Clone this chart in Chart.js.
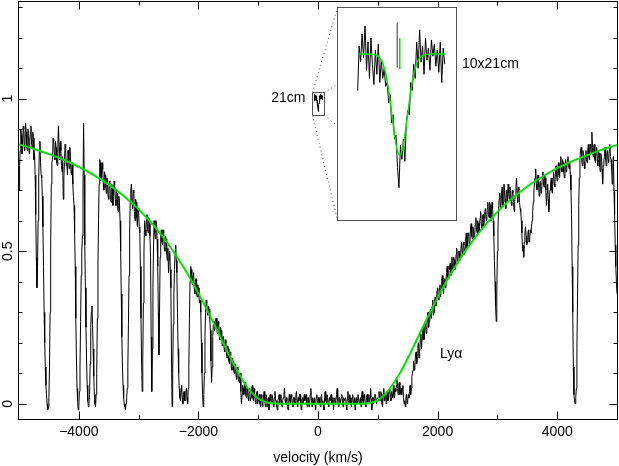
<!DOCTYPE html>
<html><head><meta charset="utf-8">
<script src="https://cdn.jsdelivr.net/npm/chart.js@4/dist/chart.umd.min.js"></script>
<style>
html,body{margin:0;padding:0;background:#fff;}
#wrap{position:relative;width:619px;height:466px;overflow:hidden;}
#main{position:absolute;left:0;top:0;}
#inset{position:absolute;background:#fff;border:1px solid #555;box-sizing:border-box;}
#inset canvas{position:absolute;left:0;top:0;}
</style></head><body>
<div id="wrap"><canvas id="main" width="619" height="466"></canvas><div id="inset"><canvas id="insetCanvas"></canvas></div></div>
<script>
// ---- main spectrum: flux on a 20 km/s grid starting at -5000 ----
const specStart = -5000, specStep = 20;
const specFlux = [
0.70,0.83,0.88,0.84,0.90,0.85,0.89,0.83,0.88,0.86,
0.91,0.84,0.87,0.82,0.62,0.38,0.60,0.83,0.79,0.74,
0.58,0.30,0.12,0.03,-0.02,0.02,0.30,0.72,0.80,0.86,
0.80,0.84,0.78,0.91,0.80,0.83,0.76,0.67,0.79,0.84,
0.79,0.83,0.77,0.81,0.75,0.72,0.65,0.45,0.15,0.01,
-0.01,0.12,0.42,0.55,0.92,0.52,0.25,0.06,-0.01,0.03,
0.25,0.32,0.18,0.03,-0.01,0.10,0.45,0.72,0.79,0.74,
0.77,0.70,0.75,0.69,0.73,0.67,0.72,0.66,0.71,0.68,
0.72,0.65,0.69,0.63,0.66,0.50,0.22,0.06,0.00,-0.02,
0.02,0.12,0.42,0.66,0.72,0.64,0.69,0.60,0.66,0.58,
0.63,0.56,0.28,0.04,0.33,0.60,0.55,0.62,0.56,0.59,
0.48,0.04,0.38,0.60,0.54,0.59,0.45,0.16,0.48,0.57,
0.52,0.56,0.50,0.54,0.47,0.43,0.50,0.38,-0.01,0.26,
0.44,0.52,0.43,0.18,0.05,0.01,0.06,0.00,0.04,0.01,
0.05,0.00,0.12,0.40,0.44,0.39,0.43,0.36,0.41,0.35,
0.38,0.33,0.30,0.10,-0.01,0.10,0.30,0.33,0.29,0.31,
0.24,0.07,0.22,0.27,0.25,0.28,0.23,0.26,0.21,0.24,
0.19,0.22,0.17,0.20,0.15,0.18,0.13,0.16,0.11,0.14,
0.10,0.13,0.08,0.11,0.07,0.10,0.00,0.06,0.03,0.07,
0.02,0.05,0.01,0.04,0.02,0.06,0.01,0.03,0.00,0.04,
0.01,0.03,-0.01,0.02,0.00,0.04,-0.01,0.02,0.01,-0.02,
0.03,0.00,0.02,-0.01,0.04,0.01,-0.02,0.02,0.00,0.03,
-0.01,0.02,0.05,0.00,0.01,-0.02,0.03,0.00,0.02,-0.01,
0.02,0.00,0.04,-0.01,0.01,0.03,-0.02,0.02,0.00,0.01,
0.03,-0.01,0.02,0.00,0.05,-0.01,0.01,0.02,-0.02,0.03,
0.00,0.02,-0.01,0.03,0.01,-0.02,0.04,0.00,0.02,-0.01,
0.01,0.03,0.00,-0.02,0.02,0.01,0.05,-0.01,0.02,0.00,
0.03,-0.01,0.01,0.02,-0.02,0.04,0.00,0.02,-0.01,0.03,
0.01,-0.02,0.02,0.00,0.03,0.01,-0.01,0.04,0.00,0.02,
-0.01,0.03,0.01,0.00,0.05,-0.02,0.02,0.01,0.03,0.00,
0.02,0.04,0.01,0.03,-0.01,0.05,0.02,0.00,0.04,0.02,
0.05,0.01,0.03,0.06,0.02,0.04,0.08,0.03,0.07,0.04,
0.03,0.06,0.00,-0.01,0.03,0.01,0.02,0.06,0.05,0.10,
0.14,0.12,0.17,0.15,0.20,0.17,0.23,0.21,0.25,0.22,
0.27,0.24,0.30,0.27,0.31,0.29,0.34,0.30,0.35,0.33,
0.38,0.34,0.39,0.37,0.42,0.36,0.41,0.40,0.45,0.41,
0.44,0.42,0.48,0.44,0.47,0.45,0.51,0.47,0.50,0.48,
0.53,0.49,0.52,0.51,0.56,0.52,0.55,0.53,0.59,0.54,
0.57,0.55,0.61,0.56,0.59,0.58,0.63,0.57,0.62,0.60,
0.64,0.60,0.66,0.61,0.65,0.62,0.64,0.55,0.40,0.27,
0.50,0.64,0.69,0.65,0.71,0.66,0.70,0.64,0.69,0.72,
0.67,0.70,0.65,0.69,0.63,0.68,0.74,0.66,0.70,0.64,
0.60,0.50,0.48,0.56,0.55,0.53,0.57,0.54,0.56,0.60,
0.66,0.72,0.77,0.70,0.75,0.68,0.73,0.70,0.76,0.71,
0.74,0.65,0.72,0.63,0.70,0.74,0.69,0.76,0.71,0.78,
0.73,0.79,0.74,0.81,0.76,0.79,0.74,0.80,0.77,0.81,
0.77,0.75,0.62,0.30,0.03,0.00,0.05,0.35,0.65,0.80,
0.84,0.78,0.82,0.77,0.83,0.79,0.85,0.80,0.84,0.89,
0.81,0.85,0.79,0.84,0.78,0.82,0.76,0.81,0.72,0.80,
0.84,0.78,0.83,0.79,0.85,0.80,0.72,0.81,0.62,0.45,
0.36];
// flux at the in-between velocities (-4990, -4970, ... 4990)
const specFluxMid = [
0.78,0.90,0.82,0.91,0.83,0.92,0.84,0.90,0.82,0.89,
0.85,0.89,0.80,0.75,0.48,0.45,0.74,0.86,0.75,0.68,
0.45,0.20,0.06,0.00,-0.01,0.12,0.52,0.79,0.87,0.82,
0.86,0.79,0.85,0.84,0.86,0.78,0.81,0.74,0.85,0.78,
0.75,0.80,0.84,0.76,0.79,0.68,0.56,0.28,0.05,-0.02,
0.04,0.27,0.50,0.70,0.75,0.38,0.14,0.01,0.00,0.13,
0.30,0.26,0.09,0.00,0.03,0.28,0.60,0.80,0.73,0.79,
0.72,0.76,0.71,0.74,0.68,0.73,0.67,0.72,0.65,0.73,
0.67,0.70,0.64,0.68,0.60,0.36,0.12,0.02,-0.01,0.00,
0.05,0.26,0.56,0.70,0.66,0.70,0.63,0.67,0.61,0.64,
0.58,0.45,0.14,0.15,0.50,0.57,0.60,0.57,0.61,0.55,
0.22,0.18,0.52,0.56,0.60,0.54,0.30,0.30,0.55,0.53,
0.57,0.51,0.55,0.49,0.51,0.47,0.44,0.15,0.10,0.36,
0.50,0.47,0.30,0.10,0.02,0.04,0.02,0.03,0.01,0.04,
0.02,0.05,0.28,0.45,0.40,0.42,0.38,0.40,0.36,0.39,
0.35,0.34,0.20,0.03,0.03,0.22,0.34,0.30,0.32,0.28,
0.14,0.12,0.26,0.24,0.28,0.24,0.27,0.22,0.25,0.21,
0.22,0.18,0.21,0.16,0.19,0.14,0.17,0.12,0.15,0.11,
0.12,0.09,0.12,0.08,0.10,0.04,0.03,0.05,0.06,0.03,
0.05,0.02,0.05,0.01,0.04,0.02,0.05,0.01,0.03,0.00,
0.02,0.00,0.03,-0.01,0.03,0.01,0.03,-0.01,0.02,0.01,
0.01,0.03,0.00,0.02,0.01,-0.01,0.01,0.03,0.02,0.00,
0.01,0.03,0.01,0.02,-0.01,0.01,0.01,0.03,0.00,0.02,
0.00,0.03,0.01,0.02,0.03,0.00,0.01,0.00,0.03,0.02,
0.00,0.02,-0.01,0.03,0.01,0.02,0.00,0.00,0.02,0.01,
0.02,0.00,0.02,0.00,-0.01,0.02,0.01,0.03,0.00,0.02,
0.02,0.00,0.02,0.01,0.00,0.03,0.01,0.02,0.00,0.02,
0.00,0.02,0.01,0.00,0.02,0.01,0.03,0.00,0.02,0.00,
0.02,0.01,0.00,0.03,0.00,0.02,0.03,0.01,0.03,0.00,
0.02,0.00,0.03,0.02,0.01,0.02,0.00,0.03,0.01,0.02,
0.01,0.02,0.04,0.00,0.03,0.01,0.03,0.03,0.01,0.04,
0.02,0.04,0.02,0.03,0.05,0.06,0.05,0.06,0.03,0.05,
0.05,0.02,0.01,0.02,0.00,0.03,0.04,0.03,0.09,0.11,
0.11,0.16,0.13,0.19,0.15,0.21,0.18,0.24,0.21,0.26,
0.23,0.29,0.25,0.30,0.28,0.32,0.29,0.34,0.32,0.37,
0.35,0.38,0.35,0.41,0.38,0.40,0.38,0.43,0.41,0.45,
0.46,0.45,0.43,0.48,0.44,0.49,0.46,0.50,0.47,0.51,
0.50,0.53,0.49,0.54,0.51,0.56,0.52,0.57,0.55,0.58,
0.54,0.59,0.57,0.60,0.56,0.61,0.59,0.61,0.58,0.63,
0.61,0.64,0.62,0.66,0.60,0.66,0.60,0.47,0.32,0.36,
0.58,0.67,0.64,0.69,0.65,0.72,0.67,0.70,0.66,0.69,
0.71,0.66,0.70,0.66,0.67,0.71,0.69,0.71,0.66,0.63,
0.56,0.52,0.53,0.58,0.52,0.56,0.53,0.57,0.58,0.63,
0.70,0.74,0.72,0.74,0.71,0.72,0.69,0.74,0.72,0.75,
0.70,0.69,0.67,0.68,0.72,0.70,0.74,0.72,0.75,0.75,
0.77,0.75,0.78,0.77,0.80,0.76,0.78,0.76,0.80,0.78,
0.79,0.70,0.45,0.12,0.01,0.02,0.18,0.52,0.74,0.83,
0.80,0.83,0.79,0.81,0.80,0.83,0.81,0.85,0.82,0.84,
0.84,0.80,0.83,0.80,0.83,0.78,0.82,0.77,0.78,0.81,
0.80,0.82,0.80,0.83,0.81,0.77,0.78,0.70,0.52,0.40];

// ---- damped Lyα fit (green) ----
const fitVel = [-5000,-4750,-4500,-4250,-4000,-3750,-3500,-3250,-3000,-2750,-2500,-2250,-2000,-1875,-1750,-1625,-1500,-1375,-1250,-1125,-1000,-875,-750,-500,0,500,750,875,1000,1125,1250,1375,1500,1625,1750,1875,2000,2250,2500,2750,3000,3250,3500,3750,4000,4250,4500,4750,5000];
const fitFlux = [0.850,0.835,0.818,0.799,0.776,0.749,0.718,0.681,0.637,0.585,0.522,0.448,0.362,0.315,0.266,0.215,0.165,0.117,0.074,0.040,0.017,0.005,0.001,0,0,0,0,0.003,0.012,0.032,0.063,0.102,0.149,0.199,0.250,0.299,0.348,0.436,0.511,0.575,0.629,0.674,0.712,0.744,0.772,0.795,0.815,0.833,0.848];

// ---- 21cm inset (10x) ----
const insetStart = -40, insetStep = 1.5;
const insetFlux = [0.82,1.04,0.96,1.10,0.98,1.14,0.92,1.06,0.88,1.08,
0.95,0.85,1.02,0.90,1.05,0.86,0.97,0.88,0.93,0.84,
0.86,0.76,0.80,0.66,0.70,0.58,0.60,0.44,0.34,0.55,
0.48,0.58,0.47,0.66,0.72,0.70,0.86,0.82,0.95,0.88,
1.06,0.93,1.12,0.96,1.04,0.90,1.08,0.97,1.03,0.92,
1.07,0.99,1.05,0.94,1.02,0.91,1.06,0.86,1.03,0.95];
const insetFitX = [-39,-30,-20,-15,-12,-9,-6,-3,0,3,6,9,12,15,18,21,25,35,49];
const insetFitY = [1.0,1.0,0.992,0.961,0.914,0.836,0.731,0.618,0.530,0.500,0.539,0.633,0.746,0.848,0.921,0.965,0.990,1.0,1.0];
const insetMarkX = [0.2, 2.8];          // black, green marker positions
const insetMarkBlackY = [0.934, 1.155];
const insetMarkGreenY = [0.926, 1.079];
const insetXRange = [-60, 60], insetYRange = [0.18, 1.228];

// ---- zoom boxes, in data units of the main chart ----
const smallBoxVel = [-100, 100], smallBoxFlux = [0.946, 1.022];
const insetBoxVel = [318, 2300], insetBoxFlux = [0.602, 1.300];

// ---- ticks & labels ----
const xMajor = [-4000,-2000,0,2000,4000];
const xMinor = [-3000,-1000,1000,3000];
const xTickLabels = ['\u22124000','\u22122000','0','2000','4000'];
const yMajor = [0,0.5,1];
const yMinor = [0.1,0.2,0.3,0.4,0.6,0.7,0.8,0.9,1.1,1.2,1.3];
const yTickLabels = ['0','0.5','1'];
const xTitle = 'velocity (km/s)';
const notes = [
  {text:'21cm', v:-210, f:1.002, align:'right'},
  {text:'10x21cm', v:2408, f:1.1135, align:'left'},
  {text:'Ly\u03b1', v:2040, f:0.161, align:'left'}
];

const FONT = '14px "Liberation Sans", Arial, Helvetica, sans-serif';
const GREEN = '#00e400';

const specPts = [];
specFlux.forEach((f,i)=>{
  specPts.push({x: specStart + i*specStep, y: f});
  if (i < specFluxMid.length) specPts.push({x: specStart + specStep/2 + i*specStep, y: specFluxMid[i]});
});
const fitPts = fitVel.map((v,i)=>({x:v, y:fitFlux[i]}));
const insetPts = insetFlux.map((f,i)=>({x: insetStart + i*insetStep, y: f}));
const insetFitPts = insetFitX.map((x,i)=>({x, y: insetFitY[i]}));
// mini copy in the small box (inset scaled down by its zoom factor)
const miniPts = insetPts.map(p=>({
  x: smallBoxVel[0] + (p.x - insetXRange[0])/(insetXRange[1]-insetXRange[0])*(smallBoxVel[1]-smallBoxVel[0]),
  y: smallBoxFlux[0] + (p.y - insetYRange[0])/(insetYRange[1]-insetYRange[0])*(smallBoxFlux[1]-smallBoxFlux[0])
}));

const decor = {
  id:'decor',
  afterDraw(chart){
    const {ctx, chartArea:a, scales:{x, y}} = chart;
    const L = a.left-0.5, R = a.right+0.5, T = a.top+0.5, B = a.bottom+0.5;
    ctx.save();
    const sx0 = Math.round(x.getPixelForValue(smallBoxVel[0]))+0.5, sx1 = Math.round(x.getPixelForValue(smallBoxVel[1]))+0.5;
    const sy0 = Math.round(y.getPixelForValue(smallBoxFlux[1]))+0.5, sy1 = Math.round(y.getPixelForValue(smallBoxFlux[0]))+0.5;
    const ix0 = Math.round(x.getPixelForValue(insetBoxVel[0]))+0.5, ix1 = Math.round(x.getPixelForValue(insetBoxVel[1]))+0.5;
    const iy0 = Math.round(y.getPixelForValue(insetBoxFlux[1]))+0.5, iy1 = Math.round(y.getPixelForValue(insetBoxFlux[0]))+0.5;
    ctx.strokeStyle = '#555'; ctx.lineWidth = 1;
    ctx.setLineDash([1,3]);
    [[sx0,sy0,ix0,iy0],[sx1,sy0,ix1,iy0],[sx1,sy1,ix1,iy1],[sx0,sy1,ix0,iy1]].forEach(s=>{
      ctx.beginPath(); ctx.moveTo(s[0],s[1]); ctx.lineTo(s[2],s[3]); ctx.stroke();
    });
    ctx.setLineDash([]);
    ctx.strokeRect(sx0, sy0, sx1-sx0, sy1-sy0);
    ctx.strokeStyle = '#000';
    ctx.strokeRect(L, T, R-L, B-T);
    ctx.beginPath();
    const xt = (v,len)=>{const p=Math.round(x.getPixelForValue(v))+0.5; ctx.moveTo(p,B); ctx.lineTo(p,B-len); ctx.moveTo(p,T); ctx.lineTo(p,T+len);};
    const yt = (f,len)=>{const p=Math.round(y.getPixelForValue(f))+0.5; ctx.moveTo(L,p); ctx.lineTo(L+len,p); ctx.moveTo(R,p); ctx.lineTo(R-len,p);};
    xMajor.forEach(v=>xt(v,8)); xMinor.forEach(v=>xt(v,4));
    yMajor.forEach(f=>yt(f,8)); yMinor.forEach(f=>yt(f,4));
    ctx.stroke();
    ctx.fillStyle = '#000'; ctx.font = FONT;
    ctx.textAlign = 'center'; ctx.textBaseline = 'middle';
    xMajor.forEach((v,i)=>ctx.fillText(xTickLabels[i], x.getPixelForValue(v), a.bottom+13));
    ctx.fillText(xTitle, (a.left+a.right)/2, a.bottom+39);
    yMajor.forEach((f,i)=>{
      ctx.save(); ctx.translate(8, y.getPixelForValue(f)); ctx.rotate(-Math.PI/2);
      ctx.fillText(yTickLabels[i], 0, 0); ctx.restore();
    });
    notes.forEach(n=>{ ctx.textAlign = n.align; ctx.fillText(n.text, x.getPixelForValue(n.v), y.getPixelForValue(n.f)); });
    ctx.restore();
  }
};

const chart = new Chart(document.getElementById('main'), {
  type:'scatter',
  data:{datasets:[
    {data:fitPts, borderColor:GREEN, borderWidth:2, showLine:true, pointRadius:0, cubicInterpolationMode:'monotone', order:0},
    {data:specPts, borderColor:'#000', borderWidth:1, showLine:true, pointRadius:0, order:1},
    {data:miniPts, borderColor:'#000', borderWidth:1, showLine:true, pointRadius:0, order:2}
  ]},
  options:{
    responsive:false, animation:false, devicePixelRatio:1, events:[],
    layout:{padding:{left:19, top:1, right:2, bottom:47}},
    plugins:{legend:{display:false}, tooltip:{enabled:false}},
    scales:{
      x:{type:'linear', min:-5000, max:5000, display:false},
      y:{type:'linear', min:-0.05, max:1.32, display:false}
    }
  },
  plugins:[decor]
});

const xs = chart.scales.x, ys = chart.scales.y;
const IL = Math.round(xs.getPixelForValue(insetBoxVel[0])), IR = Math.round(xs.getPixelForValue(insetBoxVel[1]));
const IT = Math.round(ys.getPixelForValue(insetBoxFlux[1])), IB = Math.round(ys.getPixelForValue(insetBoxFlux[0]));
const box = document.getElementById('inset');
box.style.left = IL+'px'; box.style.top = IT+'px';
box.style.width = (IR-IL+1)+'px'; box.style.height = (IB-IT+1)+'px';
const ic = document.getElementById('insetCanvas');
ic.width = IR-IL-1; ic.height = IB-IT-1;

new Chart(ic, {
  type:'scatter',
  data:{datasets:[
    {data:insetFitPts, borderColor:GREEN, borderWidth:1.5, showLine:true, pointRadius:0, cubicInterpolationMode:'monotone', order:0},
    {data:[{x:insetMarkX[1],y:insetMarkGreenY[0]},{x:insetMarkX[1],y:insetMarkGreenY[1]}], borderColor:GREEN, borderWidth:1.5, showLine:true, pointRadius:0, order:1},
    {data:insetPts, borderColor:'#000', borderWidth:1, showLine:true, pointRadius:0, order:2},
    {data:[{x:insetMarkX[0],y:insetMarkBlackY[0]},{x:insetMarkX[0],y:insetMarkBlackY[1]}], borderColor:'#333', borderWidth:1, showLine:true, pointRadius:0, order:3}
  ]},
  options:{
    responsive:false, animation:false, devicePixelRatio:1, events:[],
    layout:{padding:0},
    plugins:{legend:{display:false}, tooltip:{enabled:false}},
    scales:{
      x:{type:'linear', min:insetXRange[0], max:insetXRange[1], display:false},
      y:{type:'linear', min:insetYRange[0], max:insetYRange[1], display:false}
    }
  }
});
</script>
</body></html>
